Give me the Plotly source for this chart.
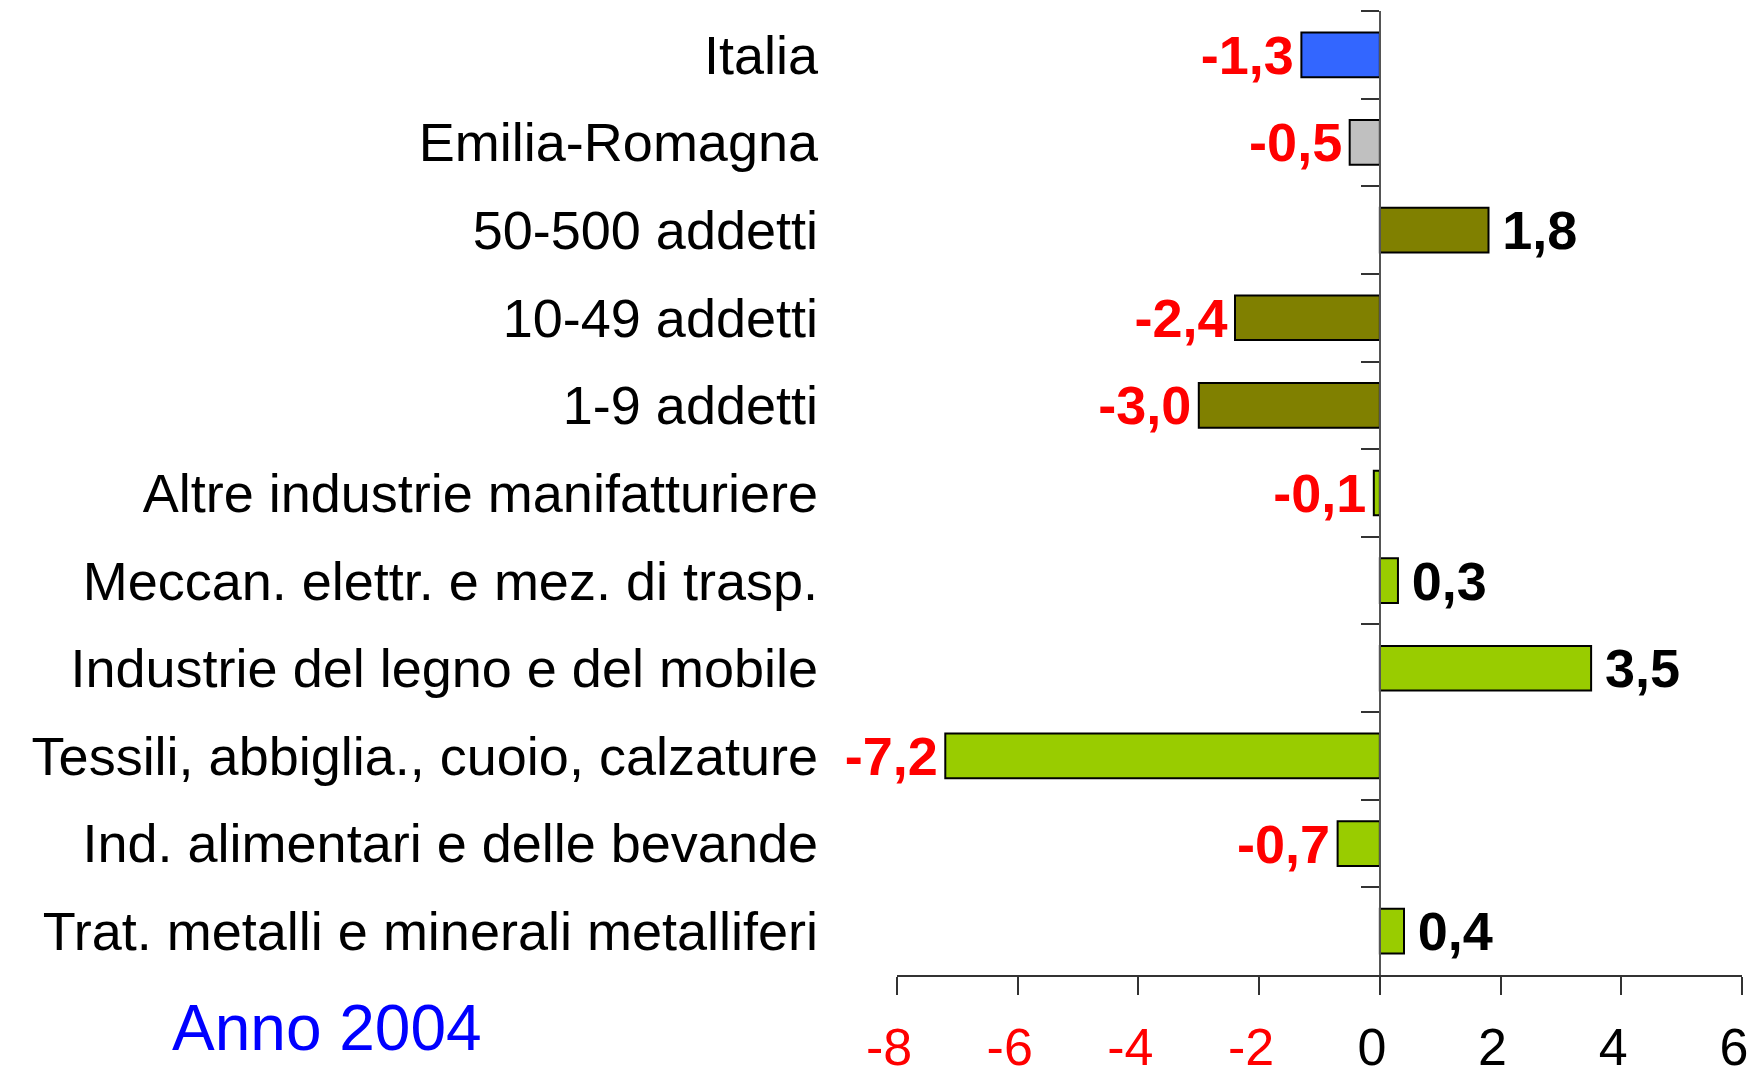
import plotly.graph_objects as go

categories = [
    "Italia",
    "Emilia-Romagna",
    "50-500 addetti",
    "10-49 addetti",
    "1-9 addetti",
    "Altre industrie manifatturiere",
    "Meccan. elettr. e mez. di trasp.",
    "Industrie del legno e del mobile",
    "Tessili, abbiglia., cuoio, calzature",
    "Ind. alimentari e delle bevande",
    "Trat. metalli e minerali metalliferi",
]
values = [-1.3, -0.5, 1.8, -2.4, -3.0, -0.1, 0.3, 3.5, -7.2, -0.7, 0.4]
bar_colors = ["#3366FF", "#C0C0C0", "#808000", "#808000", "#808000",
              "#99CC00", "#99CC00", "#99CC00", "#99CC00", "#99CC00", "#99CC00"]
x_ticks = [-8, -6, -4, -2, 0, 2, 4, 6]
title_text = "Anno 2004"

FONT = "Liberation Sans, Arial, sans-serif"
xmin, xmax = x_ticks[0], x_ticks[-1]
n = len(categories)

labels = []
label_colors = []
for v in values:
    s = f"{v:.1f}".replace(".", ",")
    if v < 0:
        labels.append(s + "\u200a")
        label_colors.append("#FF0000")
    else:
        labels.append("\u2009" + s)
        label_colors.append("#000000")

tick_text = [
    f'<span style="color:{"#FF0000" if t < 0 else "#000000"}">{t}</span>' for t in x_ticks
]

fig = go.Figure()
fig.add_trace(go.Bar(
    x=values, y=categories, orientation="h",
    marker=dict(color=bar_colors, line=dict(color="#000000", width=2)),
    text=labels, textposition="outside", cliponaxis=False, constraintext="none",
    textfont=dict(family=FONT, size=54, color=label_colors, weight="bold"),
    hoverinfo="skip", showlegend=False,
))
fig.add_trace(go.Scatter(
    x=[0] * n, y=categories, yaxis="y2", mode="markers",
    marker=dict(opacity=0), hoverinfo="skip", showlegend=False,
))

# page body has an 8px margin, so the figure is sized to fit the window
W, H = 1754, 1067
L, R, T, B = 889, 20, 3, 100
fig.update_layout(
    width=W, height=H,
    margin=dict(l=L, r=R, t=T, b=B, autoexpand=False),
    paper_bgcolor="white", plot_bgcolor="white",
    bargap=0.49,
    font=dict(family=FONT, color="#000000"),
    xaxis=dict(
        range=[xmin, xmax], tickvals=x_ticks, ticktext=tick_text,
        showgrid=False, zeroline=False, automargin=False,
        showline=True, linecolor="#333333", linewidth=1.5,
        ticks="outside", ticklen=18, tickcolor="#333333", tickwidth=1.5,
        tickfont=dict(family=FONT, size=52),
        ticklabelstandoff=8, ticklabelshift=-8,
    ),
    yaxis=dict(
        type="category", categoryorder="array", categoryarray=categories,
        range=[n - 0.5, -0.5], automargin=False,
        showgrid=False, zeroline=False, showline=False, ticks="",
        tickfont=dict(family=FONT, size=54, color="#000000"),
        ticklabelstandoff=78,
    ),
    yaxis2=dict(
        type="category", categoryorder="array", categoryarray=categories,
        range=[n - 0.5, -0.5], automargin=False,
        overlaying="y", anchor="free",
        position=(0 - xmin) / (xmax - xmin), side="left",
        showgrid=False, zeroline=False, showticklabels=False,
        showline=True, linecolor="#555555", linewidth=1.5,
        ticks="outside", ticklen=18, tickcolor="#333333", tickwidth=1.5,
        tickson="boundaries",
    ),
    annotations=[dict(
        text=title_text, xref="paper", yref="paper",
        x=(319 - L) / (W - L - R), y=(H - B - 1020) / (H - T - B),
        xanchor="center", yanchor="middle", showarrow=False,
        font=dict(family=FONT, size=64, color="#0000FF"),
    )],
)

fig.write_html("out.html")
